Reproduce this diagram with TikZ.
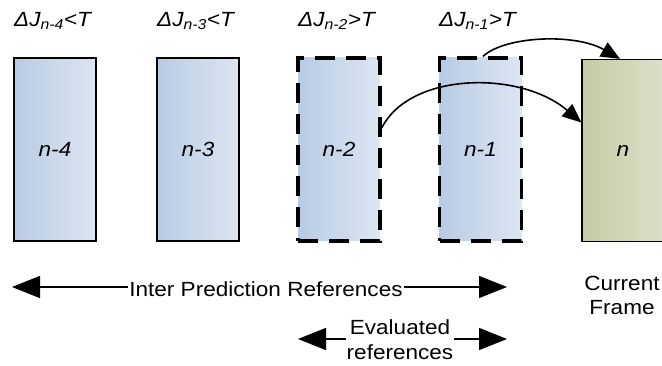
\documentclass[tikz,border=0pt]{standalone}
\usepackage{fontspec}
\setmainfont{Liberation Sans}[FakeStretch=1.1]
\usetikzlibrary{arrows.meta}
\definecolor{bluel}{HTML}{B8CBE4}
\definecolor{bluer}{HTML}{DDE6F2}
\definecolor{greenl}{HTML}{C5CBA4}
\definecolor{greenr}{HTML}{DDE0CA}
\tikzset{
  frame/.style={minimum width=82pt, minimum height=183pt, inner sep=0pt,
    font=\fontsize{20.5}{24}\selectfont\itshape},
  blueframe/.style={frame, left color=bluel, right color=bluer},
  solidframe/.style={draw=black, line width=1.2pt},
  dashframe/.style={draw=black, line width=3.3pt, dash pattern=on 20pt off 11pt},
  lbl/.style={font=\fontsize{20.5}{24}\selectfont\itshape, anchor=west, inner sep=0pt},
  txt/.style={font=\fontsize{20.5}{24}\selectfont, inner sep=1pt},
  curvearrow/.style={line width=1.6pt, -{Triangle[length=19pt,width=16pt]}},
  bigarrow/.style={line width=1.2pt, {Triangle[length=28pt,width=22pt]}-{Triangle[length=28pt,width=22pt]}},
}
\begin{document}
\begin{tikzpicture}[x=1pt,y=-1pt]
\useasboundingbox (0,0) rectangle (662,366);
\fill[white] (0,0) rectangle (662,366);
\begin{scope}
\clip (0,0) rectangle (662,366);
\node[blueframe, solidframe] (n4) at (55,149.5) {n-4};
\node[blueframe, solidframe] (n3) at (198,149.5) {n-3};
\node[blueframe, dashframe] (n2) at (339,149.5) {n-2};
\node[blueframe, dashframe] (n1) at (480.5,149.5) {n-1};
\node[frame, left color=greenl, right color=greenr, solidframe, minimum height=182pt] (n) at (623,150.5) {n};
\end{scope}
\node[lbl] (l4) at (14,21) {ΔJ\textsubscript{n-4}<T};
\node[lbl] (l3) at (157,21) {ΔJ\textsubscript{n-3}<T};
\node[lbl] (l2) at (298,21) {ΔJ\textsubscript{n-2}>T};
\node[lbl] (l1) at (439,21) {ΔJ\textsubscript{n-1}>T};
\coordinate (s1) at ([xshift=2.5pt]n1.north);
\coordinate (e1) at ([xshift=-3pt]n.north);
\draw[curvearrow] (s1) .. controls (505,36) and (575,33) .. (e1);
\coordinate (s2) at ([yshift=21.5pt]n2.east);
\coordinate (e2) at ([yshift=28pt]n.west);
\draw[curvearrow] (s2) .. controls (410,72) and (520,70) .. (e2);
\coordinate (ia) at (12,287);
\coordinate (ib) at (507,287);
\draw[bigarrow] (ia) -- (ib);
\node[txt, fill=white] (ipr) at (266,289) {Inter Prediction References};
\coordinate (ea) at (298,339);
\coordinate (eb) at (507,339);
\draw[bigarrow] (ea) -- (eb);
\node[txt, fill=white, align=center, font=\fontsize{20.5}{25}\selectfont] (ev) at (400,340) {Evaluated\\references};
\node[txt, align=center, font=\fontsize{20.5}{24}\selectfont] (cf) at (622,295) {Current\\Frame};
\end{tikzpicture}
\end{document}
